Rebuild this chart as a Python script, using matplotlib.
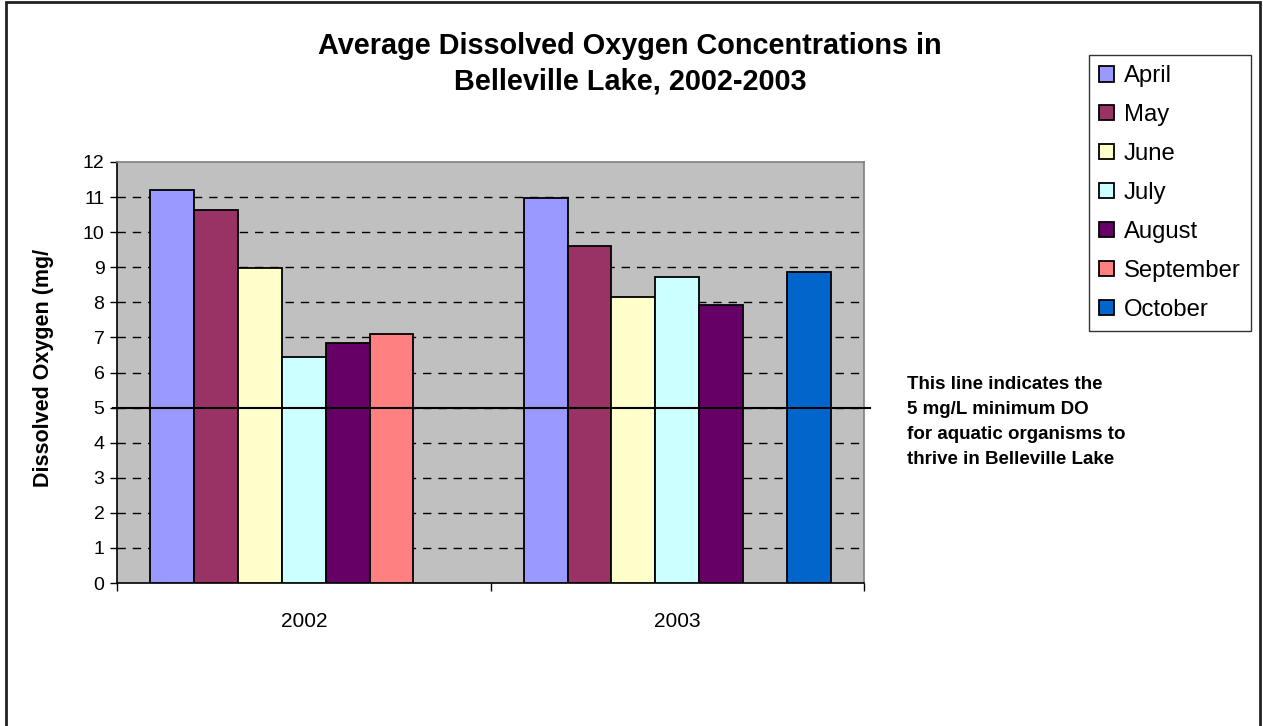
import numpy as np
import matplotlib
matplotlib.use("Agg")
import matplotlib.pyplot as plt
from matplotlib.patches import Rectangle

plt.rcParams['font.family'] = ['Liberation Sans', 'DejaVu Sans']

years = ["2002", "2003"]
months = ["April", "May", "June", "July", "August", "September", "October"]
colors = ["#9999FF", "#993366", "#FFFFCC", "#CCFFFF", "#660066", "#FF8080", "#0066CC"]

april = [11.2, 10.98]
may = [10.63, 9.61]
june = [8.97, 8.16]
july = [6.43, 8.71]
august = [6.85, 7.91]
september = [7.09, np.nan]
october = [np.nan, 8.86]
series = [april, may, june, july, august, september, october]

min_do = 5

fig = plt.figure(figsize=(12.63, 7.26), dpi=100)
W, H = 1263, 726
ax = fig.add_axes([117 / W, 1 - 583 / H, (864 - 117) / W, (583 - 162) / H])
ax.set_facecolor("#C0C0C0")

x = np.arange(len(years))
bw = 0.1175
for i, (name, vals, c) in enumerate(zip(months, series, colors)):
    offs = (i - 3) * bw
    ax.bar(x + offs, vals, width=bw, color=c, edgecolor="black", linewidth=1.3,
           label=name, zorder=3)

ax.set_xlim(-0.5, 1.5)
ax.set_ylim(0, 12)
ax.set_yticks(range(0, 13))
ax.tick_params(axis='y', direction='out', length=5, width=1, labelsize=14, pad=4)
ax.set_xticks(x)
ax.set_xticklabels(years)
ax.set_xticks([-0.5, 0.5, 1.5], minor=True)
ax.tick_params(axis='x', which='major', length=0, labelsize=15, pad=21)
ax.tick_params(axis='x', which='minor', direction='out', length=6, width=1)

for yv in range(1, 12):
    ax.axhline(yv, color="black", linestyle=(0, (6, 5)), linewidth=1, zorder=1)

ax.spines['left'].set_color("black")
ax.spines['bottom'].set_color("black")
ax.spines['top'].set_color("#808080")
ax.spines['right'].set_color("#808080")
for s in ax.spines.values():
    s.set_linewidth(1.2)

# Minimum dissolved-oxygen reference line
ax.plot([-0.006, 1.008], [min_do, min_do], color="black", linewidth=1.5,
        transform=ax.get_yaxis_transform(), clip_on=False, zorder=4)

ax.set_ylabel("Dissolved Oxygen (mg/", fontsize=15.5, fontweight='bold')
ax.yaxis.set_label_coords((54 - 117) / (864 - 117), (583 - 368) / (583 - 162))

fig.text(630 / W, 1 - 63.5 / H,
         "Average Dissolved Oxygen Concentrations in\nBelleville Lake, 2002-2003",
         ha='center', va='center', fontsize=20.8, fontweight='bold', linespacing=1.32)

fig.text(907 / W, 1 - 422 / H,
         "This line indicates the\n5 mg/L minimum DO\nfor aquatic organisms to\nthrive in Belleville Lake",
         ha='left', va='center', fontsize=13.5, fontweight='bold', linespacing=1.6)

leg = fig.legend(loc='upper left', bbox_to_anchor=(1089 / W, 1 - 55 / H),
                 fontsize=17.2, frameon=True, fancybox=False, edgecolor="black",
                 handlelength=0.64, handleheight=0.64, handletextpad=0.4,
                 labelspacing=0.71, borderpad=0.42, borderaxespad=0)
leg.get_frame().set_linewidth(1)

fig.patches.append(Rectangle((6 / W, -0.05), (1260 - 6) / W, 1.05 - 2 / H,
                             transform=fig.transFigure, fill=False,
                             edgecolor="#222222", linewidth=2))

fig.savefig("out.png", dpi=100)
